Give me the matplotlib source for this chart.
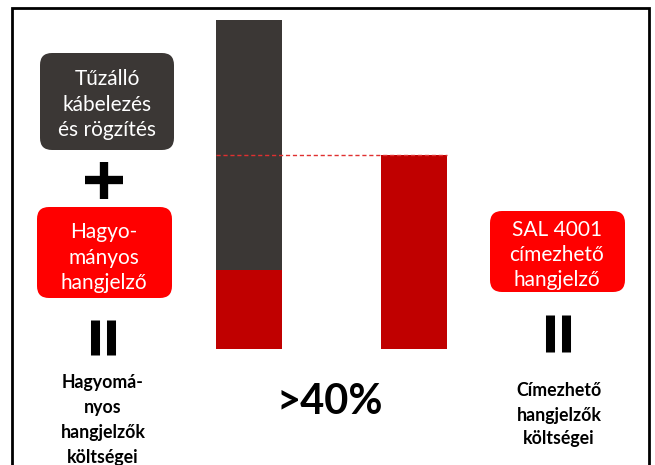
import matplotlib.pyplot as plt
from matplotlib.patches import FancyBboxPatch

plt.rcParams['font.family'] = ['Lato', 'DejaVu Sans']

# cost comparison: conventional sounders + fire-rated cabling vs addressable sounders
bar_labels = ["Hagyományos", "Címezhető"]
sounder_cost = [24, 59]        # red part of each bar
cabling_cost = [76, 0]         # fire-rated cabling and fixing (dark part)
saving_label = ">40%"

DARK = "#3b3735"
BAR_RED = "#c00000"
BOX_RED = "#ff0000"

W, H = 655, 465
fig = plt.figure(figsize=(W / 100, H / 100), dpi=100)

# bar axes placed in pixel terms: x units of 165 px, y 0..100 over 329 px
ax = fig.add_axes([166.5 / W, (H - 349) / H, 330 / W, 329 / H])
x = range(len(bar_labels))
ax.bar(x, sounder_cost, width=0.4, color=BAR_RED, zorder=2)
ax.bar(x, cabling_cost, width=0.4, bottom=sounder_cost, color=DARK, zorder=2)
ax.hlines(sounder_cost[1], -0.2, 1.2, colors="#e03030", linestyles=(0, (3, 2)),
          lw=1, zorder=3)
ax.set_xlim(-0.5, 1.5)
ax.set_ylim(0, 100)
ax.axis("off")

# overlay for boxes, symbols and labels in pixel coordinates
ov = fig.add_axes([0, 0, 1, 1], facecolor="none")
ov.set_xlim(0, W)
ov.set_ylim(H, 0)
ov.axis("off")

# frame (open at the bottom)
ov.plot([12, 12, 649, 649], [H + 5, 8, 8, H + 5], color="black", lw=2,
        solid_joinstyle="miter")


def box(x0, y0, x1, y1, color, lines, cx, ys):
    ov.add_patch(FancyBboxPatch((x0 + 12, y0 + 12), x1 - x0 - 24, y1 - y0 - 24,
                                boxstyle="round,pad=12", fc=color, ec="none"))
    for t, yy in zip(lines, ys):
        ov.text(cx, yy, t, color="white", fontsize=15, ha="center", va="center")


def equals(cx, y0, y1):
    for dx in (-8, 8):
        ov.plot([cx + dx, cx + dx], [y0, y1], color="black", lw=6.5,
                solid_capstyle="butt")


box(40, 53, 174, 150, DARK, ["Tűzálló", "kábelezés", "és rögzítés"], 107, [79, 105, 130])

# plus sign
ov.plot([85, 123], [180, 180], color="black", lw=6, solid_capstyle="butt")
ov.plot([104, 104], [162, 199], color="black", lw=6, solid_capstyle="butt")

box(37, 207, 172, 298, BOX_RED, ["Hagyo-", "mányos", "hangjelző"], 104, [232, 258, 283])
equals(103, 320, 355)
for t, yy in zip(["Hagyomá-", "nyos", "hangjelzők", "költségei"], [382, 407, 432, 457]):
    ov.text(103, yy, t, fontsize=12.8, fontweight="bold", ha="center", va="center")

box(490, 211, 625, 292, BOX_RED, ["SAL 4001", "címezhető", "hangjelző"], 557, [230, 255, 280])
equals(558, 315, 352)
for t, yy in zip(["Címezhető", "hangjelzők", "költségei"], [390, 415, 438]):
    ov.text(559, yy, t, fontsize=12.8, fontweight="bold", ha="center", va="center")

ov.text(330, 402, saving_label, fontsize=30, fontweight="bold", ha="center", va="center")

fig.savefig("out.png", dpi=100)
